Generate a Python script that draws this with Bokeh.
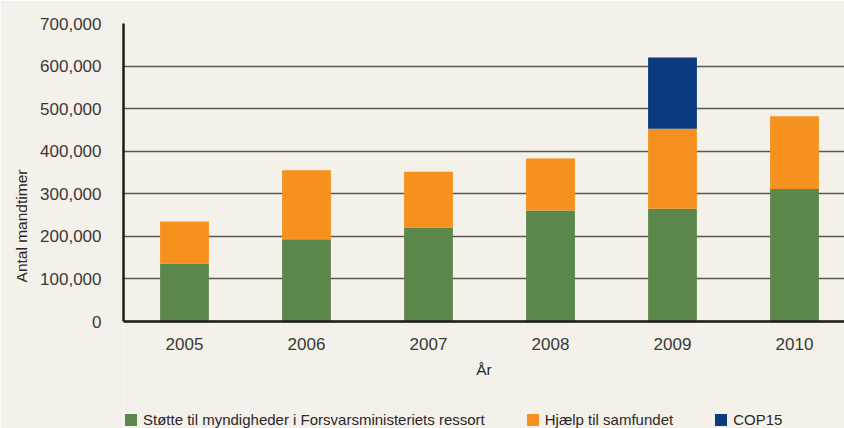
from bokeh.plotting import figure
from bokeh.models import (Range1d, NumeralTickFormatter, Legend, LegendItem, FixedTicker,
                          ColumnDataSource)
from bokeh.embed import file_html
from bokeh.resources import INLINE

years = [2005, 2006, 2007, 2008, 2009, 2010]
stotte = [136000, 193000, 221000, 261000, 265000, 311000]
hjaelp = [99000, 162000, 131000, 122000, 188000, 171000]
cop15 = [0, 0, 0, 0, 167000, 0]
series = ["stotte", "hjaelp", "cop15"]
names = ["Støtte til myndigheder i Forsvarsministeriets ressort", "Hjælp til samfundet", "COP15"]
colors = ["#5b874b", "#f6901e", "#0b3a7e"]
y_ticks = [0, 100000, 200000, 300000, 400000, 500000, 600000, 700000]

src = ColumnDataSource(dict(year=years, stotte=stotte, hjaelp=hjaelp, cop15=cop15))

BG = "#f4f1ea"
FONT = "Liberation Sans"

# frame spans down to the bottom of the window; value 0 sits 107px above it
Y_MAX = 700000
Y_MIN = -107 / 298 * Y_MAX

p = figure(frame_width=721, frame_height=405, output_backend="svg", toolbar_location=None,
           x_range=Range1d(2004.5, 2004.5 + 721 / 122), y_range=Range1d(Y_MIN, Y_MAX))
p.background_fill_color = BG
p.border_fill_color = BG
p.outline_line_color = None
p.min_border_left = 123
p.min_border_right = 0
p.min_border_top = 23
p.min_border_bottom = 0

renderers = p.vbar_stack(series, x="year", width=0.4, source=src, color=colors,
                         line_color=None)

p.xgrid.grid_line_color = None
p.ygrid.grid_line_color = "#5a5856"
p.ygrid.grid_line_width = 1.5
p.ygrid.ticker = FixedTicker(ticks=y_ticks)

p.yaxis.ticker = FixedTicker(ticks=y_ticks)
p.yaxis.formatter = NumeralTickFormatter(format="0,0")
p.yaxis.bounds = (0, Y_MAX)
p.xaxis.ticker = FixedTicker(ticks=years)
p.xaxis.formatter = NumeralTickFormatter(format="0")
p.xaxis.fixed_location = 0

for ax in (p.xaxis[0], p.yaxis[0]):
    ax.major_tick_line_color = None
    ax.minor_tick_line_color = None
    ax.axis_line_color = "#1e1c1a"
    ax.axis_line_width = 2.5
    ax.major_label_text_font = FONT
    ax.major_label_text_font_size = "17px"
    ax.major_label_text_color = "#3a3836"
    ax.axis_label_text_font = FONT
    ax.axis_label_text_font_style = "normal"
    ax.axis_label_text_font_size = "15.5px"
    ax.axis_label_text_color = "#2a2826"

p.xaxis.major_label_standoff = 10
p.yaxis.major_label_standoff = 16
p.yaxis.axis_label = "Antal mandtimer"
p.yaxis.axis_label_standoff = 7
p.xaxis.axis_label = "År"
p.xaxis.axis_label_standoff = 8

legend = Legend(items=[LegendItem(label=n, renderers=[r]) for n, r in zip(names, renderers)],
                orientation="horizontal", location=(0, 0),
                background_fill_alpha=0, border_line_color=None,
                padding=0, margin=0, spacing=40, label_standoff=5,
                glyph_width=15, glyph_height=15,
                label_text_font=FONT, label_text_font_size="15px",
                label_text_color="#2a2826")
p.add_layout(legend, "center")

open("out.html", "w").write(file_html(p, INLINE))
